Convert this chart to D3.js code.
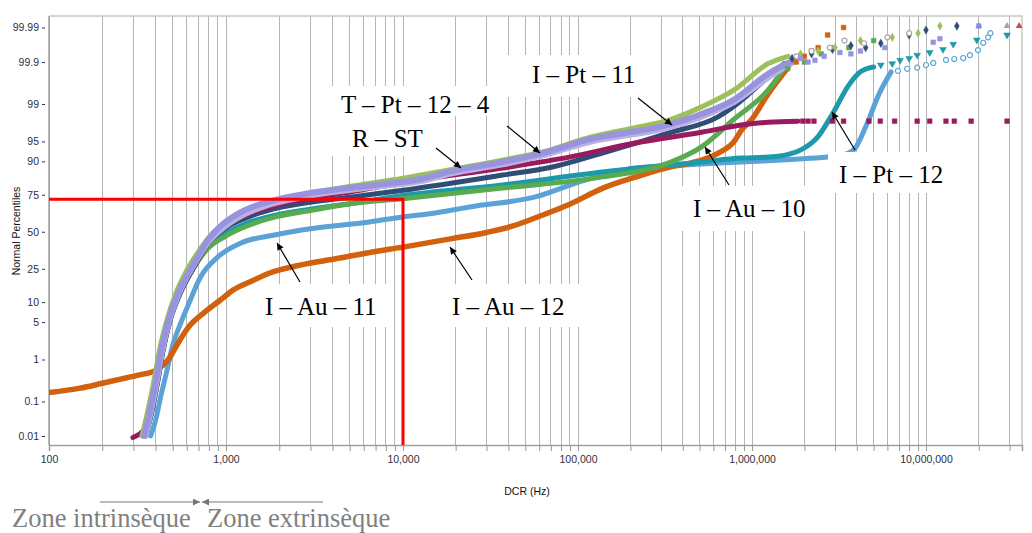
<!DOCTYPE html>
<html><head><meta charset="utf-8">
<script src="https://cdn.jsdelivr.net/npm/d3@7"></script>
<style>
html,body{margin:0;padding:0;background:#fff;}
svg{display:block;}
</style></head>
<body><svg id="chart" width="1032" height="533"></svg>
<script>
// ---------------- DATA ----------------
const xDecades = [100, 1000, 10000, 100000, 1000000, 10000000];
const xTickLabels = ["100", "1,000", "10,000", "100,000", "1,000,000", "10,000,000"];
const yTickValues = [0.01, 0.1, 1, 5, 10, 25, 50, 75, 90, 95, 99, 99.9, 99.99];
const yTickLabels = ["0.01", "0.1", "1", "5", "10", "25", "50", "75", "90", "95", "99", "99.9", "99.99"];
const xTitle = "DCR (Hz)";
const yTitle = "Normal Percentiles";

// [DCR Hz, percentile]
const iAu12 = [[100,0.17],[150,0.22],[200,0.29],[250,0.36],[320,0.45],[400,0.58],[440,0.75],[472,1.0],[530,2.0],[605,3.9],[750,7],[930,10.7],[1100,14.5],[1400,18.5],[1750,22.5],[2700,27.5],[4100,31],[7000,36],[10000,39],[19000,45],[30000,49.5],[42000,54],[63000,62],[89000,69],[138000,78.5],[213000,84],[333000,88],[450000,89.5],[640000,92.4],[790000,95],[870000,96.8],[990000,97.9],[1240000,99.4],[1610000,99.86]];
const iAu12Tail = [[1800000,99.9],[2000000,99.93],[2200000,99.95],[2400000,99.96],[2720000,99.983],[3360000,99.99]];

const iAu11 = [[375,0.01],[400,0.03],[430,0.15],[460,0.5],[503,2.1],[550,4.5],[605,8.5],[718,20.5],[898,32.3],[1215,41.9],[1876,47.6],[2673,51.3],[6442,57.1],[9950,60.6],[15300,63.4],[19200,65.4],[24000,67.4],[57000,73.7],[110000,82.7],[213000,87.7],[410000,88.8],[867000,89.8],[2720000,91.3],[3000000,91.5],[3500000,92.2],[3900000,93.5],[4500000,97.2],[5400000,99.42],[6300000,99.82]];
const iAu11Tail = [[6900000,99.83],[7800000,99.85],[8900000,99.86],[10000000,99.88],[11000000,99.894],[13000000,99.912],[14500000,99.917],[16300000,99.922],[17800000,99.935],[19800000,99.953],[21200000,99.971],[22600000,99.98],[23300000,99.985]];

const iPt12 = [[350,0.01],[380,0.05],[410,0.3],[440,1.5],[480,5],[550,13],[660,26],[800,40],[1000,49],[1300,56],[2000,62.5],[3000,66],[5000,69.5],[10000,74.5],[37000,80.3],[138000,86.2],[513000,89.8],[867000,91],[1240000,91.3],[1600000,92],[1910000,93.2],[2390000,95.8],[2900000,98.4],[3600000,99.62],[4200000,99.82],[5000000,99.865]];
const iPt12Tail = [[5500000,99.88],[6400000,99.89],[7100000,99.91],[8000000,99.92],[8900000,99.935],[10500000,99.945],[12500000,99.955],[14300000,99.968],[19500000,99.976],[29000000,99.983]];

const iAu10 = [[345,0.01],[375,0.05],[405,0.3],[435,1.5],[475,5],[545,13],[650,25],[790,38],[970,46],[1300,54],[1880,60.5],[3000,65],[4500,68.7],[10900,73.1],[37000,78.7],[138000,84.1],[333000,89.5],[513000,93.9],[791000,98.0],[1240000,99.51],[1470000,99.81]];
const iAu10Tail = [[1600000,99.85],[2000000,99.9],[2500000,99.94],[3600000,99.96],[5000000,99.975]];

const navySeries = [[350,0.01],[380,0.05],[410,0.3],[440,1.5],[480,5],[550,13],[660,26],[800,42],[1000,53],[1300,60],[2000,67],[3000,70.5],[5000,73.5],[10000,77.5],[37000,84.9],[71500,88.1],[138000,92.4],[333000,96.4],[641000,98.2],[834000,99.05],[1240000,99.76],[1530000,99.89]];
const navyTail = [[1700000,99.92],[2200000,99.94],[2900000,99.955],[3700000,99.965],[4500000,99.96],[5500000,99.97],[8000000,99.983],[10000000,99.988],[15000000,99.991]];

const rSt = [[298,0.009],[355,0.02],[385,0.1],[415,0.5],[445,2],[485,6],[560,15],[670,28],[810,44],[1000,55],[1300,62],[2000,69],[3000,73],[5000,76.5],[10000,81.5],[37000,87.7],[89000,91.3],[213000,94.7],[513000,96.5],[867000,97.4],[1240000,97.7],[1840000,97.8]];
const rStTail = [[1960000,97.8],[2100000,97.8],[2270000,97.8],[2900000,97.8],[3360000,97.8],[4700000,97.8],[5460000,97.8],[6600000,97.8],[8900000,97.8],[10500000,97.8],[13000000,97.8],[14500000,97.8],[18100000,97.8],[29000000,97.8]];

const iPt11 = [[335,0.01],[360,0.05],[390,0.3],[420,1.5],[460,5],[520,13],[600,24],[700,36],[800,46],[1000,57],[1300,65],[2000,72],[3000,76],[5000,79.5],[10000,83.5],[19000,87.2],[37000,90.4],[63000,92.7],[110000,95.5],[213000,97.1],[333000,97.9],[513000,98.85],[790000,99.51],[1240000,99.89],[1610000,99.93]];
const iPt11Tail = [[1900000,99.94],[2400000,99.95],[3000000,99.96],[4200000,99.975],[6400000,99.98],[9000000,99.985],[12000000,99.991]];

const tPt124 = [[345,0.01],[370,0.05],[400,0.3],[430,1.5],[470,5],[540,13.5],[650,27],[790,44],[970,56],[1215,64],[1880,71.8],[2930,75.8],[7000,80.3],[12900,83.3],[19000,86.5],[37000,89.8],[63000,92.4],[110000,95.2],[340000,97.5],[513000,98.4],[790000,99.2],[1240000,99.8],[1740000,99.91]];
const tPt124Tail = [[1900000,99.92],[2100000,99.9],[2300000,99.91],[2600000,99.93],[3200000,99.945],[3700000,99.94],[4200000,99.95],[5800000,99.96],[11000000,99.972],[12000000,99.978],[20000000,99.991]];

const lightPurple = [[350,0.01],[375,0.05],[405,0.3],[435,1.5],[475,5],[545,13.5],[655,27],[800,43],[990,54],[1250,62],[1900,70],[3000,74.5],[7000,79.3],[12900,82.3],[19000,85.6],[37000,89],[63000,91.8],[110000,94.7],[340000,97.2],[513000,98.2],[790000,99.1],[1240000,99.75],[1740000,99.9]];

const grayTail = [[1800000,99.93],[2200000,99.95],[2800000,99.96],[3400000,99.975],[4400000,99.97],[6000000,99.98],[8000000,99.985]];

const redGuideValue = [10000, 72.3];
const zoneLabels = ["Zone intrinsèque", "Zone extrinsèque"];

// ---------------- SCALES ----------------
function probit(p) {
  const a=[-3.969683028665376e+01,2.209460984245205e+02,-2.759285104469687e+02,1.383577518672690e+02,-3.066479806614716e+01,2.506628277459239e+00];
  const b=[-5.447609879822406e+01,1.615858368580409e+02,-1.556989798598866e+02,6.680131188771972e+01,-1.328068155288572e+01];
  const c=[-7.784894002430293e-03,-3.223964580411365e-01,-2.400758277161838e+00,-2.549732539343734e+00,4.374664141464968e+00,2.938163982698783e+00];
  const d=[7.784695709041462e-03,3.224671290700398e-01,2.445134137142996e+00,3.754408661907416e+00];
  const pl=0.02425, ph=1-pl; let q, r;
  if (p < pl) { q=Math.sqrt(-2*Math.log(p)); return (((((c[0]*q+c[1])*q+c[2])*q+c[3])*q+c[4])*q+c[5])/((((d[0]*q+d[1])*q+d[2])*q+d[3])*q+1); }
  if (p <= ph) { q=p-0.5; r=q*q; return (((((a[0]*r+a[1])*r+a[2])*r+a[3])*r+a[4])*r+a[5])*q/(((((b[0]*r+b[1])*r+b[2])*r+b[3])*r+b[4])*r+1); }
  q=Math.sqrt(-2*Math.log(1-p)); return -(((((c[0]*q+c[1])*q+c[2])*q+c[3])*q+c[4])*q+c[5])/((((d[0]*q+d[1])*q+d[2])*q+d[3])*q+1);
}

const L = 49, R = 1022, T = 16, B = 445;
const xMax = 3.53e7;
const x = d3.scaleLog()
  .domain([100, 1e3, 1e4, 1e5, 1e6, 1e7, xMax])
  .range([49, 226, 403, 578, 752, 926, R]);
const zScale = d3.scaleLinear().domain([probit(0.0001), probit(0.9999)]).range([436, 27.5]);
const y = pct => zScale(probit(pct / 100));

const svg = d3.select("#chart");
svg.append("rect").attr("width", 1032).attr("height", 533).attr("fill", "#fff");

const defs = svg.append("defs");
defs.append("clipPath").attr("id", "plotClip").append("rect")
  .attr("x", L).attr("y", T).attr("width", R - L).attr("height", B - T);
function arrowMarker(id, color) {
  defs.append("marker").attr("id", id).attr("viewBox", "0 0 10 10")
    .attr("refX", 10).attr("refY", 5).attr("markerWidth", 8).attr("markerHeight", 7)
    .attr("markerUnits", "userSpaceOnUse").attr("orient", "auto")
    .append("path").attr("d", "M0,0 L10,5 L0,10 Z").attr("fill", color);
}
arrowMarker("arrBlack", "#000");
arrowMarker("arrGray", "#777");

// gridlines (vertical)
const gridTicks = x.ticks();
svg.append("g").selectAll("line").data(gridTicks).join("line")
  .attr("x1", d => x(d)).attr("x2", d => x(d)).attr("y1", T).attr("y2", B)
  .attr("stroke", "#b5b5b5").attr("stroke-width", 1).attr("shape-rendering", "crispEdges");

// frame top/right
svg.append("path").attr("d", `M${L},${T}H${R}V${B}`).attr("fill", "none")
  .attr("stroke", "#c8c8c8").attr("stroke-width", 1.5);

// x axis
const xAxis = d3.axisBottom(x).tickValues(gridTicks).tickSize(6).tickPadding(5)
  .tickFormat(d => { const i = xDecades.indexOf(d); return i >= 0 ? xTickLabels[i] : ""; });
const gx = svg.append("g").attr("transform", `translate(0,${B})`).call(xAxis);
gx.select(".domain").attr("stroke", "#a0a0a0").attr("stroke-width", 1.5);
gx.selectAll(".tick line").attr("stroke", "#999");
gx.selectAll("text").attr("font-family", "Arial, 'Liberation Sans', sans-serif").attr("font-size", 10.5).attr("fill", "#2e2e3e");

// y axis
const yAxis = d3.axisLeft(zScale).tickValues(yTickValues.map(v => probit(v / 100))).tickSize(3).tickPadding(3)
  .tickFormat((d, i) => yTickLabels[i]);
const gy = svg.append("g").attr("transform", `translate(${L - 4},0)`).call(yAxis);
gy.select(".domain").remove();
gy.selectAll(".tick line").attr("stroke", "#333");
gy.selectAll("text").attr("font-family", "Arial, 'Liberation Sans', sans-serif").attr("font-size", 10.5).attr("fill", "#2e2e3e");
svg.append("line").attr("x1", L).attr("x2", L).attr("y1", T).attr("y2", B).attr("stroke", "#a0a0a0").attr("stroke-width", 1.5);

// titles
svg.append("text").attr("x", 527).attr("y", 495).attr("text-anchor", "middle")
  .attr("font-family", "Arial, 'Liberation Sans', sans-serif").attr("font-size", 10.5).attr("fill", "#111").text(xTitle);
svg.append("text").attr("transform", "translate(20,231) rotate(-90)").attr("text-anchor", "middle")
  .attr("font-family", "Arial, 'Liberation Sans', sans-serif").attr("font-size", 10.5).attr("fill", "#111").text(yTitle);

// series
const plot = svg.append("g").attr("clip-path", "url(#plotClip)");
const line = d3.line().x(d => x(d[0])).y(d => y(d[1])).curve(d3.curveMonotoneX);
const seriesList = [
  { data: iAu11, tail: iAu11Tail, color: "#5ba2d6", w: 5, sym: d3.symbolCircle, open: true },
  { data: iAu12, tail: iAu12Tail, color: "#d2600c", w: 5.5, sym: d3.symbolSquare, open: false },
  { data: iPt12, tail: iPt12Tail, color: "#1c99aa", w: 5, sym: d3.symbolTriangle, open: false, flip: true },
  { data: iAu10, tail: iAu10Tail, color: "#58ab4e", w: 5, sym: d3.symbolSquare, open: false },
  { data: navySeries, tail: navyTail, color: "#2f4e76", w: 5, sym: d3.symbolDiamond, open: false },
  { data: rSt, tail: rStTail, color: "#9a1a5e", w: 5, sym: d3.symbolSquare, open: false },
  { data: iPt11, tail: iPt11Tail, color: "#9cc05a", w: 5, sym: d3.symbolDiamond, open: false },
  { data: lightPurple, tail: grayTail, color: "#bcb0e2", w: 6, sym: d3.symbolCircle, open: true },
  { data: tPt124, tail: tPt124Tail, color: "#9893de", w: 6, sym: d3.symbolSquare, open: false }
];
seriesList.forEach(s => {
  plot.append("path").datum(s.data).attr("d", line).attr("fill", "none")
    .attr("stroke", s.color).attr("stroke-width", s.w)
    .attr("stroke-linecap", "round").attr("stroke-linejoin", "round");
});
seriesList.forEach(s => {
  plot.append("g").selectAll("path").data(s.tail).join("path")
    .attr("transform", d => `translate(${x(d[0])},${y(d[1])})${s.flip ? " rotate(180)" : ""}`)
    .attr("d", d3.symbol().type(s.sym).size(s.sym === d3.symbolSquare ? 22 : 20))
    .attr("fill", s.open ? "#fff" : s.color)
    .attr("stroke", s.color === "#bcb0e2" ? "#a5a5a5" : s.color).attr("stroke-width", s.open ? 1.2 : 0.5);
});
// top scatter extras
const extraTop = [[20000000, 99.991, "#8e8ad6"], [29000000, 99.991, "#a5a5a5"], [34000000, 99.991, "#c0504d"]];
plot.append("g").selectAll("path").data(extraTop).join("path")
  .attr("transform", d => `translate(${x(d[0])},${y(d[1])})`)
  .attr("d", d3.symbol().type(d3.symbolTriangle).size(20)).attr("fill", d => d[2]);

// red guide
const rx = x(redGuideValue[0]), ry = y(redGuideValue[1]);
svg.append("path").attr("d", `M${L},${ry}H${rx}V${B}`).attr("fill", "none")
  .attr("stroke", "#ff0000").attr("stroke-width", 3);

// annotations
const annotations = [
  { t: "I – Pt – 11", x: 532, y: 83, box: [508, 55, 152, 42], tail: [638, 98], tip: [672, 125] },
  { t: "T – Pt – 12 – 4", x: 341, y: 113, box: [332, 86, 166, 30], tail: [507, 126], tip: [540, 153] },
  { t: "R – ST", x: 352, y: 147, box: [332, 116, 100, 40], tail: [436, 148], tip: [461, 168] },
  { t: "I – Au – 10", x: 693, y: 217, box: [668, 186, 150, 45], tail: [729, 185], tip: [705, 147] },
  { t: "I – Pt – 12", x: 839, y: 183, box: [828, 152, 124, 41], tail: [855, 150], tip: [832, 112] },
  { t: "I – Au – 11", x: 265, y: 315, box: [258, 284, 134, 43], tail: [300, 282], tip: [277, 243] },
  { t: "I – Au – 12", x: 452, y: 315, box: [442, 284, 138, 43], tail: [472, 280], tip: [450, 247] }
];
const ag = svg.append("g");
ag.selectAll("rect").data(annotations).join("rect")
  .attr("x", d => d.box[0]).attr("y", d => d.box[1]).attr("width", d => d.box[2]).attr("height", d => d.box[3])
  .attr("fill", "#fff");
ag.selectAll("text").data(annotations).join("text")
  .attr("x", d => d.x).attr("y", d => d.y)
  .attr("font-family", "'Liberation Serif', 'Times New Roman', serif").attr("font-size", 25).attr("fill", "#000")
  .text(d => d.t);
ag.selectAll("line").data(annotations).join("line")
  .attr("x1", d => d.tail[0]).attr("y1", d => d.tail[1]).attr("x2", d => d.tip[0]).attr("y2", d => d.tip[1])
  .attr("stroke", "#000").attr("stroke-width", 1.2).attr("marker-end", "url(#arrBlack)");

// zones
const zg = svg.append("g");
zg.append("line").attr("x1", 100).attr("y1", 502).attr("x2", 200).attr("y2", 502)
  .attr("stroke", "#777").attr("stroke-width", 1.2).attr("marker-end", "url(#arrGray)");
zg.append("line").attr("x1", 323).attr("y1", 502).attr("x2", 202).attr("y2", 502)
  .attr("stroke", "#777").attr("stroke-width", 1.2).attr("marker-end", "url(#arrGray)");
zg.selectAll("text").data(zoneLabels).join("text")
  .attr("x", (d, i) => i === 0 ? 12 : 207).attr("y", 527)
  .attr("font-family", "'Liberation Serif', 'Times New Roman', serif").attr("font-size", 26.5)
  .attr("fill", "#808080").text(d => d);
</script>
</body></html>
